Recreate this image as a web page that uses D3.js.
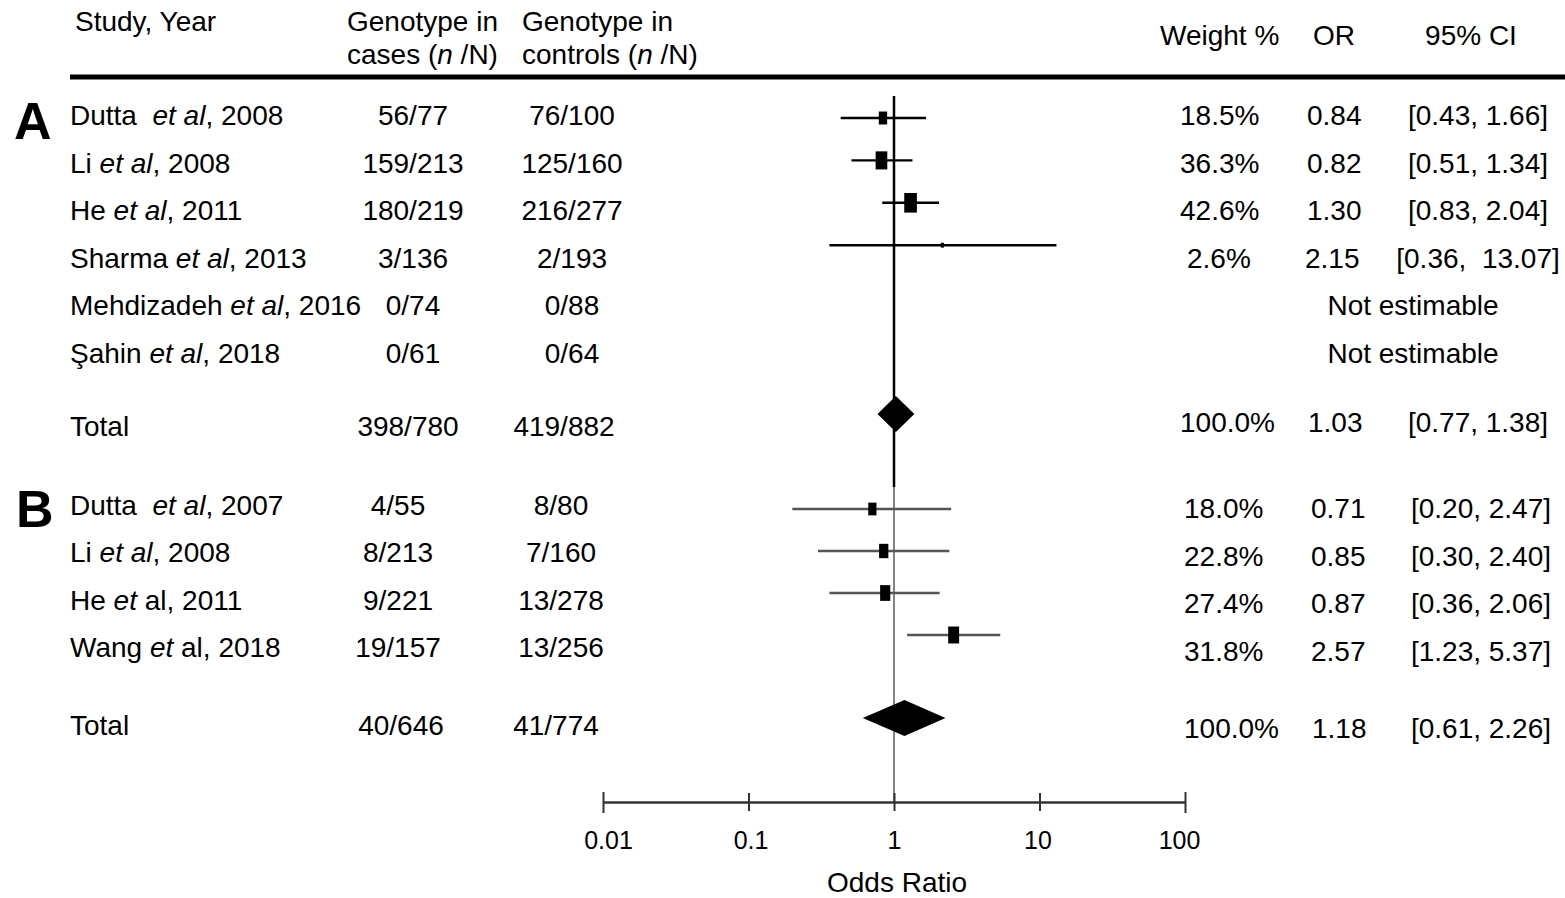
<!DOCTYPE html>
<html>
<head>
<meta charset="utf-8">
<script src="https://cdn.jsdelivr.net/npm/d3@7"></script>
<style>
  body { margin: 0; background: #fff; }
  text { font-family: "Liberation Sans", Arial, sans-serif; fill: #000; white-space: pre; }
</style>
</head>
<body>
<div id="chart"></div>
<script>

// ---- data: panel A ----
var studiesA = [["Dutta  ", "et al", ", 2008"], ["Li ", "et al", ", 2008"], ["He ", "et al", ", 2011"],
                ["Sharma ", "et al", ", 2013"], ["Mehdizadeh ", "et al", ", 2016"], ["Şahin ", "et al", ", 2018"]];
var casesA = ["56/77", "159/213", "180/219", "3/136", "0/74", "0/61"];
var controlsA = ["76/100", "125/160", "216/277", "2/193", "0/88", "0/64"];
var weightA = [18.5, 36.3, 42.6, 2.6, null, null];
var orA = [0.84, 0.82, 1.30, 2.15, null, null];
var lowA = [0.43, 0.51, 0.83, 0.36, null, null];
var highA = [1.66, 1.34, 2.04, 13.07, null, null];
var ciTextA = ["[0.43, 1.66]", "[0.51, 1.34]", "[0.83, 2.04]", "[0.36,  13.07]", null, null];
var totalA = { cases: "398/780", controls: "419/882", weight: "100.0%", or: 1.03, low: 0.77, high: 1.38, ci: "[0.77, 1.38]" };

// ---- data: panel B ----
var studiesB = [["Dutta  ", "et al", ", 2007"], ["Li ", "et al", ", 2008"], ["He ", "et", " al, 2011"], ["Wang ", "et", " al, 2018"]];
var casesB = ["4/55", "8/213", "9/221", "19/157"];
var controlsB = ["8/80", "7/160", "13/278", "13/256"];
var weightB = [18.0, 22.8, 27.4, 31.8];
var orB = [0.71, 0.85, 0.87, 2.57];
var lowB = [0.20, 0.30, 0.36, 1.23];
var highB = [2.47, 2.40, 2.06, 5.37];
var ciTextB = ["[0.20, 2.47]", "[0.30, 2.40]", "[0.36, 2.06]", "[1.23, 5.37]"];
var totalB = { cases: "40/646", controls: "41/774", weight: "100.0%", or: 1.18, low: 0.61, high: 2.26, ci: "[0.61, 2.26]" };

var axisTicks = [0.01, 0.1, 1, 10, 100];

var svg = d3.select("#chart")
    .append("svg")
    .attr("width", 1565)
    .attr("height", 898);

var x = d3.scaleLog().domain([0.01, 100]).range([603, 1185]);
var boxW = d3.scaleSqrt().domain([0, 45]).range([0, 13]);

// header
function header(t, xx, yy, anchor) {
    return svg.append("text").attr("x", xx).attr("y", yy).attr("font-size", 28)
        .attr("text-anchor", anchor || "start").text(t);
}
header("Study, Year", 75, 31);
header("Genotype in", 347, 31);
var h2 = header("cases (", 347, 64);
h2.append("tspan").attr("font-style", "italic").text("n");
h2.append("tspan").text(" /N)");
header("Genotype in", 522, 31);
var h3 = header("controls (", 522, 64);
h3.append("tspan").attr("font-style", "italic").text("n");
h3.append("tspan").text(" /N)");
header("Weight %", 1160, 45);
header("OR", 1334, 45, "middle");
header("95% CI", 1471, 45, "middle");

svg.append("line").attr("x1", 70).attr("x2", 1565).attr("y1", 77).attr("y2", 77)
    .attr("stroke", "#000").attr("stroke-width", 5);

// panel letters
svg.append("text").attr("x", 14).attr("y", 139).attr("font-size", 52).attr("font-weight", "bold").text("A");
svg.append("text").attr("x", 16).attr("y", 527).attr("font-size", 52).attr("font-weight", "bold").text("B");

// null line
svg.append("line").attr("x1", x(1)).attr("x2", x(1)).attr("y1", 96).attr("y2", 487)
    .attr("stroke", "#000").attr("stroke-width", 2.5);
svg.append("line").attr("x1", x(1)).attr("x2", x(1)).attr("y1", 487).attr("y2", 803)
    .attr("stroke", "#666").attr("stroke-width", 1.6);

function drawPanel(p) {
    var g = svg.append("g");
    p.studies.forEach(function (s, i) {
        var ty = p.textY(i) + 10;
        var t = g.append("text").attr("x", 70).attr("y", ty).attr("font-size", 28);
        t.append("tspan").text(s[0]);
        t.append("tspan").attr("font-style", "italic").text(s[1]);
        t.append("tspan").text(s[2]);
        g.append("text").attr("x", p.casesX).attr("y", ty).attr("font-size", 28)
            .attr("text-anchor", "middle").text(p.cases[i]);
        g.append("text").attr("x", p.controlsX).attr("y", ty).attr("font-size", 28)
            .attr("text-anchor", "middle").text(p.controls[i]);
        var ry = p.rightY(i) + 10;
        if (p.or[i] == null) {
            g.append("text").attr("x", 1413).attr("y", ry).attr("font-size", 28)
                .attr("text-anchor", "middle").text("Not estimable");
            return;
        }
        g.append("text").attr("x", p.weightX + (p.weight[i] < 10 ? 7 : 0)).attr("y", ry).attr("font-size", 28)
            .text(p.weight[i].toFixed(1) + "%");
        g.append("text").attr("x", p.orX - (p.weight[i] < 10 ? 2 : 0)).attr("y", ry).attr("font-size", 28)
            .text(p.or[i].toFixed(2));
        g.append("text").attr("x", p.ciX).attr("y", ry).attr("font-size", 28)
            .attr("text-anchor", "middle").text(p.ci[i]);

        // CI whisker and weight box
        var py = p.plotY(i);
        g.append("line").attr("x1", x(p.low[i])).attr("x2", x(p.high[i]))
            .attr("y1", py).attr("y2", py).attr("stroke", p.color).attr("stroke-width", 2.4);
        var w = boxW(p.weight[i]), h = w * 1.55;
        g.append("rect").attr("x", x(p.or[i]) - w / 2).attr("y", py - h / 2)
            .attr("width", w).attr("height", h).attr("fill", "#000");
    });

    // total row
    var tt = p.total;
    var ty = p.totalTextY + 10;
    g.append("text").attr("x", 70).attr("y", ty).attr("font-size", 28).text("Total");
    g.append("text").attr("x", p.totCasesX).attr("y", ty).attr("font-size", 28)
        .attr("text-anchor", "middle").text(tt.cases);
    g.append("text").attr("x", p.totControlsX).attr("y", ty).attr("font-size", 28)
        .attr("text-anchor", "middle").text(tt.controls);
    var ry = p.totalRightY + 10;
    g.append("text").attr("x", p.weightX).attr("y", ry).attr("font-size", 28).text(tt.weight);
    g.append("text").attr("x", p.orX + 1).attr("y", ry).attr("font-size", 28).text(tt.or.toFixed(2));
    g.append("text").attr("x", p.ciX).attr("y", ry).attr("font-size", 28)
        .attr("text-anchor", "middle").text(tt.ci);
    var dy = p.diamondY, hh = 18;
    g.append("path")
        .attr("d", "M" + x(tt.low) + "," + dy + "L" + x(tt.or) + "," + (dy - hh) +
            "L" + x(tt.high) + "," + dy + "L" + x(tt.or) + "," + (dy + hh) + "Z")
        .attr("fill", "#000");
}

drawPanel({
    studies: studiesA, cases: casesA, controls: controlsA, weight: weightA, or: orA,
    low: lowA, high: highA, ci: ciTextA, total: totalA, color: "#000",
    textY: d3.scaleLinear().domain([0, 1]).range([115, 162.5]),
    rightY: d3.scaleLinear().domain([0, 1]).range([115, 162.5]),
    plotY: d3.scaleLinear().domain([0, 1]).range([118, 160.4]),
    casesX: 413, controlsX: 572, totCasesX: 408, totControlsX: 564,
    weightX: 1180, orX: 1307, ciX: 1478,
    totalTextY: 426, totalRightY: 422, diamondY: 414
});

drawPanel({
    studies: studiesB, cases: casesB, controls: controlsB, weight: weightB, or: orB,
    low: lowB, high: highB, ci: ciTextB, total: totalB, color: "#555",
    textY: d3.scaleLinear().domain([0, 1]).range([505, 552.3]),
    rightY: d3.scaleLinear().domain([0, 1]).range([508, 555.7]),
    plotY: d3.scaleLinear().domain([0, 1]).range([509, 551]),
    casesX: 398, controlsX: 561, totCasesX: 401, totControlsX: 556,
    weightX: 1184, orX: 1311, ciX: 1481,
    totalTextY: 725, totalRightY: 728, diamondY: 718
});

// x axis
var xAxis = d3.axisBottom(x).tickValues(axisTicks).tickSizeOuter(0).tickSize(0)
    .tickFormat(function (d) { return String(d); });
var gx = svg.append("g").attr("transform", "translate(0,802)").call(xAxis);
gx.select(".domain").attr("stroke", "#333").attr("stroke-width", 2.5);
gx.selectAll(".tick line")
    .attr("y1", function (d) { return (d === 0.01 || d === 100) ? -10 : -9; })
    .attr("y2", function (d) { return (d === 0.01 || d === 100) ? 11 : 9; })
    .attr("stroke", "#333").attr("stroke-width", 2);
// labels sit a little inside the end ticks in the original
gx.selectAll(".tick text").attr("y", 47).attr("dy", 0)
    .attr("x", function (d) { return d === 0.01 ? 5 : d === 100 ? -6 : d === 0.1 ? 2 : d === 10 ? -2 : 0; })
    .attr("font-size", 25).attr("font-family", "Liberation Sans, Arial, sans-serif").attr("fill", "#000");

svg.append("text").attr("x", 897).attr("y", 892).attr("font-size", 28)
    .attr("text-anchor", "middle").text("Odds Ratio");

</script>
</body>
</html>
